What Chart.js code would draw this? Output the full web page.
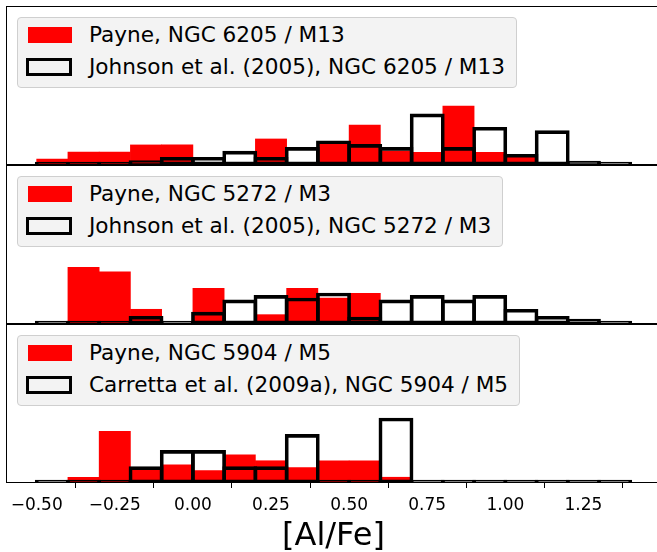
<!DOCTYPE html>
<html>
<head>
<meta charset="utf-8">
<script src="https://cdn.jsdelivr.net/npm/chart.js@4"></script>
<style>
  html, body { margin: 0; padding: 0; background: #fff; }
  body { width: 657px; height: 552px; overflow: hidden; position: relative; }
  canvas { position: absolute; left: 0; }
  .legend {
    position: absolute; left: 17px;
    background: #f3f3f3; border: 1px solid #cfcfcf; border-radius: 4px;
    padding: 1.5px 11px 4px 9px;
    font: 21.6px "DejaVu Sans", sans-serif; color: #000; white-space: nowrap;
  }
  .row { position: relative; height: 32px; line-height: 32px; padding-left: 62px; }
  .patch { position: absolute; box-sizing: border-box; }
  .patch.red { left: 1px; top: 8px; width: 44px; height: 15.4px; background: #ff0000; }
  .patch.outline { left: -1.3px; top: 7px; width: 46.7px; height: 17.7px; border: 3px solid #000; }
</style>
</head>
<body>
<canvas id="c1" width="670" height="161" style="top:5px"></canvas>
<canvas id="c2" width="670" height="161" style="top:164px"></canvas>
<canvas id="c3" width="670" height="236" style="top:323px"></canvas>

<div class="legend" style="top:16.7px">
  <div class="row"><span class="patch red"></span>Payne, NGC 6205 / M13</div>
  <div class="row"><span class="patch outline"></span>Johnson et al. (2005), NGC 6205 / M13</div>
</div>
<div class="legend" style="top:175.7px">
  <div class="row"><span class="patch red"></span>Payne, NGC 5272 / M3</div>
  <div class="row"><span class="patch outline"></span>Johnson et al. (2005), NGC 5272 / M3</div>
</div>
<div class="legend" style="top:334.7px">
  <div class="row"><span class="patch red"></span>Payne, NGC 5904 / M5</div>
  <div class="row"><span class="patch outline"></span>Carretta et al. (2009a), NGC 5904 / M5</div>
</div>

<script>
// bin centres, [Al/Fe] bins of width 0.1 from -0.5 to 1.4
const binCenters = [-0.45, -0.35, -0.25, -0.15, -0.05, 0.05, 0.15, 0.25, 0.35, 0.45,
  0.55, 0.65, 0.75, 0.85, 0.95, 1.05, 1.15, 1.25, 1.35]
const xTicks = [-0.5, -0.25, 0, 0.25, 0.5, 0.75, 1.0, 1.25]

// normalised histogram heights
const m13Payne = [0.30, 0.65, 0.65, 1.01, 1.01, 0, 0, 1.31, 0, 1.04, 2.01, 0.70, 0.64, 2.97, 0.64, 0.39, 0, 0, 0]
const m13Johnson = [0, 0, 0, 0.22, 0.39, 0.39, 0.70, 0.39, 0.89, 1.22, 1.04, 0.89, 2.57, 0.89, 1.90, 0.54, 1.73, 0.20, 0]
const m3Payne = [0, 2.85, 2.62, 0.74, 0, 1.80, 0, 0.47, 1.80, 1.31, 1.54, 0, 0, 0, 0, 0, 0, 0, 0]
const m3Johnson = [0, 0, 0, 0.39, 0.15, 0.60, 1.21, 1.44, 1.31, 1.56, 0.35, 1.21, 1.44, 1.21, 1.44, 0.74, 0.39, 0.25, 0.15]
const m5Payne = [0, 0.29, 2.60, 0.70, 0.92, 0.62, 1.42, 1.12, 0.77, 1.12, 1.12, 0.29, 0, 0, 0, 0, 0, 0, 0]
const m5Carretta = [0, 0, 0, 0.82, 1.64, 1.64, 0.82, 0.82, 2.45, 0, 0, 3.27, 0, 0, 0, 0, 0, 0, 0]

const X_MIN = -0.595
const X_MAX = 1.495
const Y_MAX = 8

// draw the four spines of each panel
const frame = {
  id: "frame",
  afterDatasetsDraw(chart) {
    const { left, top, right, bottom } = chart.chartArea
    const ctx = chart.ctx
    ctx.save()
    ctx.strokeStyle = "#000"
    ctx.lineWidth = 1
    ctx.strokeRect(Math.round(left) - 0.5, Math.round(top) + 0.5, right - left + 1, Math.round(bottom) - Math.round(top) - 1)
    ctx.restore()
  },
}

function points(values) {
  return binCenters.map((x, i) => ({ x, y: values[i] }))
}

function makePanel(canvasId, red, outline, isBottom) {
  const xScale = {
    type: "linear",
    min: X_MIN,
    max: X_MAX,
    offset: false,
    display: isBottom,
    afterBuildTicks: (scale) => { scale.ticks = xTicks.map((v) => ({ value: v })) },
    grid: { display: true, drawOnChartArea: false, tickLength: 5, tickColor: "#000", tickWidth: 1 },
    border: { display: false },
    ticks: {
      color: "#000",
      padding: 7,
      maxRotation: 0,
      font: { family: "DejaVu Sans", size: 17 },
      callback: (v) => (v < 0 ? "\u2212" : "") + Math.abs(v).toFixed(2),
    },
    title: {
      display: isBottom,
      text: "[Al/Fe]",
      color: "#000",
      font: { family: "DejaVu Sans", size: 32, lineHeight: 1 },
      padding: { top: 0, bottom: 6.5 },
    },
  }
  if (isBottom) xScale.afterFit = (scale) => { scale.height = 76 }

  new Chart(document.getElementById(canvasId), {
    type: "bar",
    data: {
      datasets: [
        {
          label: "outline",
          data: points(outline),
          backgroundColor: "rgba(0,0,0,0)",
          borderColor: "#000",
          borderWidth: 3,
          borderSkipped: false,
          barThickness: 34.2,
          minBarLength: 3,
          grouped: false,
          order: 0,
        },
        {
          label: "red",
          data: points(red),
          backgroundColor: "#ff0000",
          borderWidth: 0,
          barPercentage: 1,
          categoryPercentage: 1,
          grouped: false,
          order: 1,
        },
      ],
    },
    options: {
      responsive: false,
      animation: false,
      layout: { padding: { left: 7, right: 10, top: 1, bottom: isBottom ? 0 : 1 } },
      plugins: { legend: { display: false }, tooltip: { enabled: false } },
      scales: {
        x: xScale,
        y: { display: false, min: 0, max: Y_MAX },
      },
    },
    plugins: [frame],
  })
}

makePanel("c1", m13Payne, m13Johnson, false)
makePanel("c2", m3Payne, m3Johnson, false)
makePanel("c3", m5Payne, m5Carretta, true)
</script>
</body>
</html>
